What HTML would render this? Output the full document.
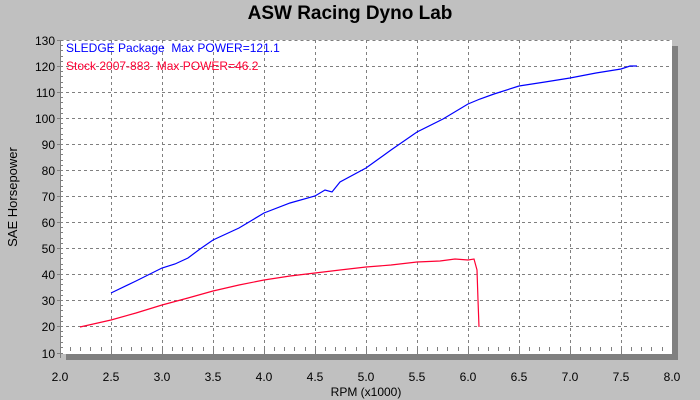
<!DOCTYPE html>
<html><head><meta charset="utf-8"><style>body{margin:0;background:#c0c0c0}svg{display:block}</style></head><body>
<svg width="700" height="400" xmlns="http://www.w3.org/2000/svg" font-family="Liberation Sans, sans-serif">
<rect width="700" height="400" fill="#c0c0c0"/>
<text x="350" y="19" text-anchor="middle" font-size="19" font-weight="bold">ASW Racing Dyno Lab</text>
<rect x="66" y="46" width="612" height="314" fill="#808080"/>
<rect x="60" y="40" width="612" height="314" fill="#fff"/>
<g stroke="#808080" stroke-dasharray="3,3" stroke-width="1">
<path d="M60.5 40.5H672M60 66.5H672M60 92.5H672M60 118.5H672M60 144.5H672M60 170.5H672M60 196.5H672M60 222.5H672M60 248.5H672M60 274.5H672M60 300.5H672M60 326.5H672"/>
<path d="M111.5 40V354M162.5 40V354M213.5 40V354M264.5 40V354M315.5 40V354M366.5 40V354M417.5 40V354M468.5 40V354M519.5 40V354M570.5 40V354M621.5 40V354"/>
</g>
<g stroke="#808080" stroke-width="1">
<path d="M60.5 40V356"/>
<path d="M57 40.5H63M57 66.5H63M57 92.5H63M57 118.5H63M57 144.5H63M57 170.5H63M57 196.5H63M57 222.5H63M57 248.5H63M57 274.5H63M57 300.5H63M57 326.5H63M57 353.5H63"/>
<path d="M60 45.5h3M60 50.5h3M60 56.5h3M60 61.5h3M60 71.5h3M60 76.5h3M60 82.5h3M60 87.5h3M60 97.5h3M60 102.5h3M60 108.5h3M60 113.5h3M60 123.5h3M60 128.5h3M60 134.5h3M60 139.5h3M60 149.5h3M60 154.5h3M60 160.5h3M60 165.5h3M60 175.5h3M60 180.5h3M60 186.5h3M60 191.5h3M60 201.5h3M60 206.5h3M60 212.5h3M60 217.5h3M60 227.5h3M60 232.5h3M60 238.5h3M60 243.5h3M60 253.5h3M60 258.5h3M60 264.5h3M60 269.5h3M60 279.5h3M60 284.5h3M60 290.5h3M60 295.5h3M60 305.5h3M60 310.5h3M60 316.5h3M60 321.5h3M60 331.5h3M60 336.5h3M60 342.5h3M60 347.5h3"/>
<path d="M60.5 349V358M111.5 349V358M162.5 349V358M213.5 349V358M264.5 349V358M315.5 349V358M366.5 349V358M417.5 349V358M468.5 349V358M519.5 349V358M570.5 349V358M621.5 349V358M672.5 349V358"/>
<path d="M70.5 347v4M80.5 347v4M90.5 347v4M101.5 347v4M121.5 347v4M131.5 347v4M141.5 347v4M152.5 347v4M172.5 347v4M182.5 347v4M192.5 347v4M203.5 347v4M223.5 347v4M233.5 347v4M243.5 347v4M254.5 347v4M274.5 347v4M284.5 347v4M294.5 347v4M305.5 347v4M325.5 347v4M335.5 347v4M345.5 347v4M356.5 347v4M376.5 347v4M386.5 347v4M396.5 347v4M407.5 347v4M427.5 347v4M437.5 347v4M447.5 347v4M458.5 347v4M478.5 347v4M488.5 347v4M498.5 347v4M509.5 347v4M529.5 347v4M539.5 347v4M549.5 347v4M560.5 347v4M580.5 347v4M590.5 347v4M600.5 347v4M611.5 347v4M631.5 347v4M641.5 347v4M651.5 347v4M662.5 347v4"/>
</g>
<g font-size="12" text-anchor="end">
<text x="55" y="45">130</text><text x="55" y="71">120</text><text x="55" y="97">110</text><text x="55" y="123">100</text><text x="55" y="149">90</text><text x="55" y="175">80</text><text x="55" y="201">70</text><text x="55" y="227">60</text><text x="55" y="253">50</text><text x="55" y="279">40</text><text x="55" y="305">30</text><text x="55" y="331">20</text><text x="55" y="358">10</text>
</g>
<g font-size="12" text-anchor="middle">
<text x="60" y="381">2.0</text><text x="111" y="381">2.5</text><text x="162" y="381">3.0</text><text x="213" y="381">3.5</text><text x="264" y="381">4.0</text><text x="315" y="381">4.5</text><text x="366" y="381">5.0</text><text x="417" y="381">5.5</text><text x="468" y="381">6.0</text><text x="519" y="381">6.5</text><text x="570" y="381">7.0</text><text x="621" y="381">7.5</text><text x="672" y="381">8.0</text>
<text x="366" y="396">RPM (x1000)</text>
</g>
<text transform="translate(17,197) rotate(-90)" font-size="13" text-anchor="middle">SAE Horsepower</text>
<text x="66" y="52" font-size="12" fill="#0000ff">SLEDGE Package&#160;&#160;Max POWER=121.1</text>
<text x="66" y="70" font-size="12" fill="#ff0033">Stock 2007-883&#160;&#160;Max POWER=46.2</text>
<polyline fill="none" stroke="#0000ff" stroke-width="1.2" points="111,293 136,281 162,268 175,264 188,258 200,249 213,240 239,228 264,213 290,203 315,196 325,190 332,192 340,182 366,168 391,150 417,132 443,119 468,104 480,99 494,94 519,86 545,82 570,78 596,73 621,69 630,66 637,66"/>
<polyline fill="none" stroke="#ff0033" stroke-width="1.2" points="80,327 111,320 136,313 162,305 188,298 213,291 239,285 264,280 290,276 315,273 340,270 366,267 391,265 417,262 440,261 455,259 468,260 474,259 477,270 478,300 479,327"/>
</svg>
</body></html>
